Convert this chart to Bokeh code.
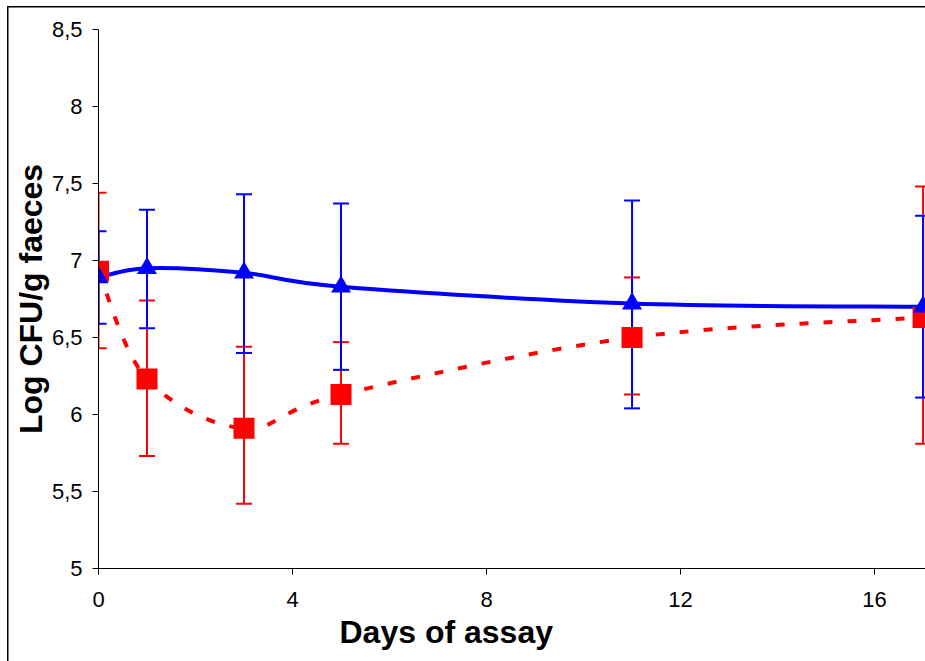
from bokeh.plotting import figure
from bokeh.models import (Range1d, FixedTicker, Whisker, TeeHead, ColumnDataSource, Title)
from bokeh.embed import file_html
from bokeh.resources import INLINE

# ---- data ----
days = [0, 1, 3, 5, 11, 17]
blue_mean = [6.89, 6.95, 6.92, 6.83, 6.72, 6.70]
blue_upper = [7.19, 7.33, 7.43, 7.37, 7.39, 7.29]
blue_lower = [6.59, 6.56, 6.40, 6.29, 6.04, 6.11]
red_mean = [6.93, 6.23, 5.91, 6.13, 6.50, 6.63]
red_upper = [7.44, 6.74, 6.44, 6.47, 6.89, 7.48]
red_lower = [6.43, 5.73, 5.42, 5.81, 6.13, 5.81]
x_ticks = [0, 4, 8, 12, 16]
y_ticks = [5, 5.5, 6, 6.5, 7, 7.5, 8, 8.5]
y_tick_labels = ["5", "5,5", "6", "6,5", "7", "7,5", "8", "8,5"]
x_title = "Days of assay"
y_title = "Log CFU/g faeces"

BLUE = "#0000FF"
RED = "#FF0000"
FONT = "Liberation Sans"

p = figure(width=925, height=661, output_backend="svg", toolbar_location=None,
           x_range=Range1d(0, 17.05), y_range=Range1d(5, 8.5),
           min_border_left=98, min_border_right=0, min_border_top=29,
           min_border_bottom=93)
p.styles = {"background": "linear-gradient(#000,#000) 7px 6px / 1.5px 100% no-repeat, "
                          "linear-gradient(#000,#000) 7px 6px / 100% 1.5px no-repeat, #fff"}
p.outline_line_color = None
p.background_fill_color = "white"
p.border_fill_color = None
p.xgrid.visible = False
p.ygrid.visible = False

for ax in (p.xaxis[0], p.yaxis[0]):
    ax.axis_line_color = "black"
    ax.axis_line_width = 1
    ax.major_tick_line_color = "black"
    ax.major_tick_in = 0
    ax.major_tick_out = 6
    ax.minor_tick_line_color = None
    ax.major_label_text_font = FONT
    ax.major_label_text_font_size = "22px"
    ax.major_label_text_color = "black"

p.xaxis.ticker = FixedTicker(ticks=x_ticks)
p.xaxis.major_label_standoff = 17
p.yaxis.ticker = FixedTicker(ticks=y_ticks)
p.yaxis.major_label_overrides = {t: l for t, l in zip(y_ticks, y_tick_labels)}
p.yaxis.major_label_standoff = 10
p.yaxis.axis_label = y_title
p.yaxis.axis_label_text_font = FONT
p.yaxis.axis_label_text_font_style = "bold"
p.yaxis.axis_label_text_font_size = "32px"
p.yaxis.axis_label_text_color = "black"
p.yaxis.axis_label_standoff = 0

p.add_layout(Title(text=x_title, align="left", offset=241, text_font=FONT,
                   text_font_style="bold", text_font_size="32px",
                   text_color="black", standoff=4), "below")


def bezier_source(xs, ys):
    n = len(xs)
    d = dict(x0=[], y0=[], x1=[], y1=[], cx0=[], cy0=[], cx1=[], cy1=[])
    for i in range(n - 1):
        i0 = max(i - 1, 0)
        i3 = min(i + 2, n - 1)
        d["x0"].append(xs[i]); d["y0"].append(ys[i])
        d["x1"].append(xs[i + 1]); d["y1"].append(ys[i + 1])
        d["cx0"].append(xs[i] + (xs[i + 1] - xs[i0]) / 6)
        d["cy0"].append(ys[i] + (ys[i + 1] - ys[i0]) / 6)
        d["cx1"].append(xs[i + 1] - (xs[i3] - xs[i]) / 6)
        d["cy1"].append(ys[i + 1] - (ys[i3] - ys[i]) / 6)
    return ColumnDataSource(d)


def add_whisker(lower, upper, color):
    src = ColumnDataSource(dict(x=days, lo=lower, up=upper))
    w = Whisker(source=src, base="x", lower="lo", upper="up", dimension="height",
                line_color=color, line_width=2,
                upper_head=TeeHead(size=16, line_color=color, line_width=2),
                lower_head=TeeHead(size=16, line_color=color, line_width=2))
    p.add_layout(w)


add_whisker(red_lower, red_upper, RED)
add_whisker(blue_lower, blue_upper, BLUE)

p.bezier(x0="x0", y0="y0", x1="x1", y1="y1", cx0="cx0", cy0="cy0",
         cx1="cx1", cy1="cy1", source=bezier_source(days, red_mean),
         line_color=RED, line_width=4, line_dash="9 15")
p.bezier(x0="x0", y0="y0", x1="x1", y1="y1", cx0="cx0", cy0="cy0",
         cx1="cx1", cy1="cy1", source=bezier_source(days, blue_mean),
         line_color=BLUE, line_width=4)

p.scatter(days, red_mean, marker="square", size=21, fill_color=RED, line_color=None)
p.scatter(days, blue_mean, marker="triangle", size=20, fill_color=BLUE, line_color=None)

open("out.html", "w").write(file_html(p, INLINE))
